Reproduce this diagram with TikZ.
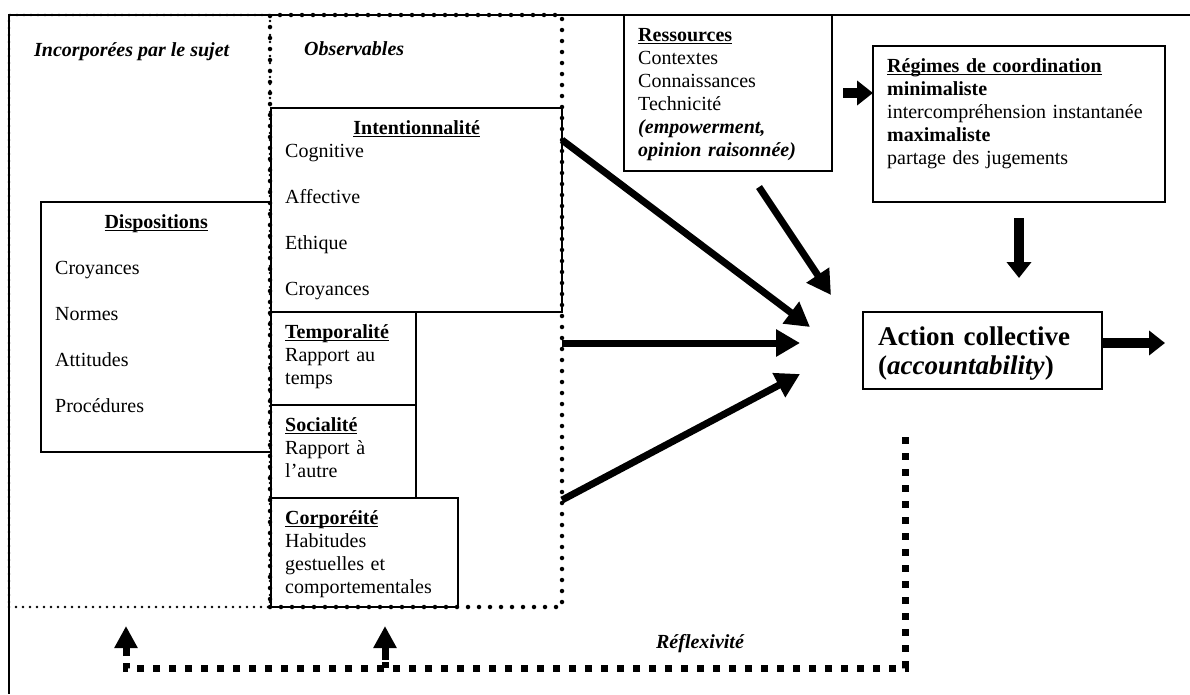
\documentclass[tikz,border=0pt]{standalone}
\usepackage{fontspec}
\setmainfont{Liberation Serif}
\usetikzlibrary{arrows.meta}

\newsavebox{\titbox}
\newcommand{\titul}[1]{\leavevmode\sbox\titbox{\bfseries #1}\rlap{\rule[-3pt]{\wd\titbox}{1.3pt}}\usebox\titbox}

\begin{document}
\begin{tikzpicture}[x=1pt,y=-1pt,
  box/.style={draw,line width=1.5pt,outer sep=0pt,inner sep=0pt,anchor=north west},
  txt/.style={anchor=north west,inner xsep=14pt,inner ysep=10pt,align=left,font=\fontsize{20}{23}\selectfont},
  lbl/.style={inner sep=0pt,font=\fontsize{20}{23}\selectfont\bfseries\itshape},
  finedots/.style={draw,outer sep=0pt,inner sep=0pt,anchor=north west,line width=2.8pt,line cap=round,dash pattern=on 0pt off 7pt},
  bigdots/.style={draw,outer sep=0pt,inner sep=0pt,anchor=north west,line width=4.5pt,line cap=round,dash pattern=on 0pt off 11pt},
  arr/.style={line width=7pt,-{Triangle[length=24pt,width=26pt]}},
  arrs/.style={line width=10pt,-{Triangle[length=16pt,width=24pt]}},
  arrup/.style={line width=7pt,-{Triangle[length=22pt,width=22pt]}},
  reflex/.style={line width=7pt,dash pattern=on 7pt off 9pt}]
  \useasboundingbox (0,0) rectangle (1190,694);
  % frame
  \draw[line width=1.5pt] (1190,15) -- (9,15) -- (9,694);
  % dotted zones
  \node[finedots,minimum width=261pt,minimum height=592pt] (incorp) at (9,15) {};
  \node[bigdots,minimum width=292pt,minimum height=592pt] (observ) at (270,15) {};
  \node[lbl,anchor=base west] (incorplbl) at (34,56) {Incorporées par le sujet};
  \node[lbl,anchor=base west] (observlbl) at (304,55) {Observables};

  % boxes on the left
  \node[box,minimum width=230pt,minimum height=250pt] (disp) at (41,202) {};
  \node[txt,text width=202pt] (disptxt) at (disp.north west)
    {\strut\hfill\titul{Dispositions}\hfill\null\\[23pt]Croyances\\[23pt]Normes\\[23pt]Attitudes\\[23pt]Procédures};
  \node[box,minimum width=291pt,minimum height=204pt] (intent) at (271,108) {};
  \node[txt,text width=263pt] (intenttxt) at (intent.north west)
    {\strut\hfill\titul{Intentionnalité}\hfill\null\\Cognitive\\[23pt]Affective\\[23pt]Ethique\\[23pt]Croyances};
  \node[box,minimum width=145pt,minimum height=93pt] (tempo) at (271,312) {};
  \node[txt,text width=117pt] (tempotxt) at (tempo.north west)
    {\strut\titul{Temporalité}\\Rapport au\\temps};
  \node[box,minimum width=145pt,minimum height=93pt] (social) at (271,405) {};
  \node[txt,text width=117pt] (socialtxt) at (social.north west)
    {\strut\titul{Socialité}\\Rapport à\\l’autre};
  \node[box,minimum width=187pt,minimum height=109pt] (corpo) at (271,498) {};
  \node[txt,text width=159pt] (corpotxt) at (corpo.north west)
    {\strut\titul{Corporéité}\\Habitudes\\gestuelles et\\comportementales};

  % boxes on the right
  \node[box,minimum width=208pt,minimum height=156pt] (ress) at (624,15) {};
  \node[txt,text width=180pt] (resstxt) at (ress.north west)
    {\strut\titul{Ressources}\\Contextes\\Connaissances\\Technicité\\\textbf{\textit{(empowerment,}}\\\textbf{\textit{opinion raisonnée)}}};
  \node[box,minimum width=292pt,minimum height=156pt] (regimes) at (873,46) {};
  \node[txt,text width=264pt] (regimestxt) at (regimes.north west)
    {\strut\titul{Régimes de coordination}\\\textbf{minimaliste}\\intercompréhension instantanée\\\textbf{maximaliste}\\partage des jugements};
  \node[box,minimum width=239pt,minimum height=77pt] (action) at (863,312) {};
  \node[txt,font=\fontsize{27}{29}\selectfont\bfseries,inner xsep=15pt,inner ysep=12.7pt,text width=209pt] (actiontxt) at (action.north west)
    {\strut Action collective\\(\textit{accountability})};

  % arrows
  \draw[arr] (observ.east |- 0,140) -- (810,327);
  \draw[arr] ([shift={(31,16)}]ress.south) -- (831,295);
  \draw[arr] (observ.east |- 0,343) -- (800,343);
  \draw[arr] (observ.east |- 0,500) -- (800,374);
  \coordinate (rg) at (843,93);
  \draw[arrs] (rg) -- (rg -| regimes.west);
  \draw[arrs] ([shift={(0,16)}]regimes.south) -- ([shift={(0,76)}]regimes.south);
  \draw[arrs] (action.east |- 0,343) -- (1165,343);

  % reflexivity loop
  \coordinate (rstart) at (905,437);
  \coordinate (up1) at (126,626);
  \coordinate (up2) at (385,626);
  \draw[reflex] (rstart) |- (126,668) -- (126,660);
  \draw[reflex] (385,668) -- (385,662);
  \draw[arrup] (126,656) -- (up1);
  \draw[arrup] (385,660) -- (up2);
  \node[lbl,anchor=base] (reflexlbl) at (700,648) {Réflexivité};
\end{tikzpicture}
\end{document}
